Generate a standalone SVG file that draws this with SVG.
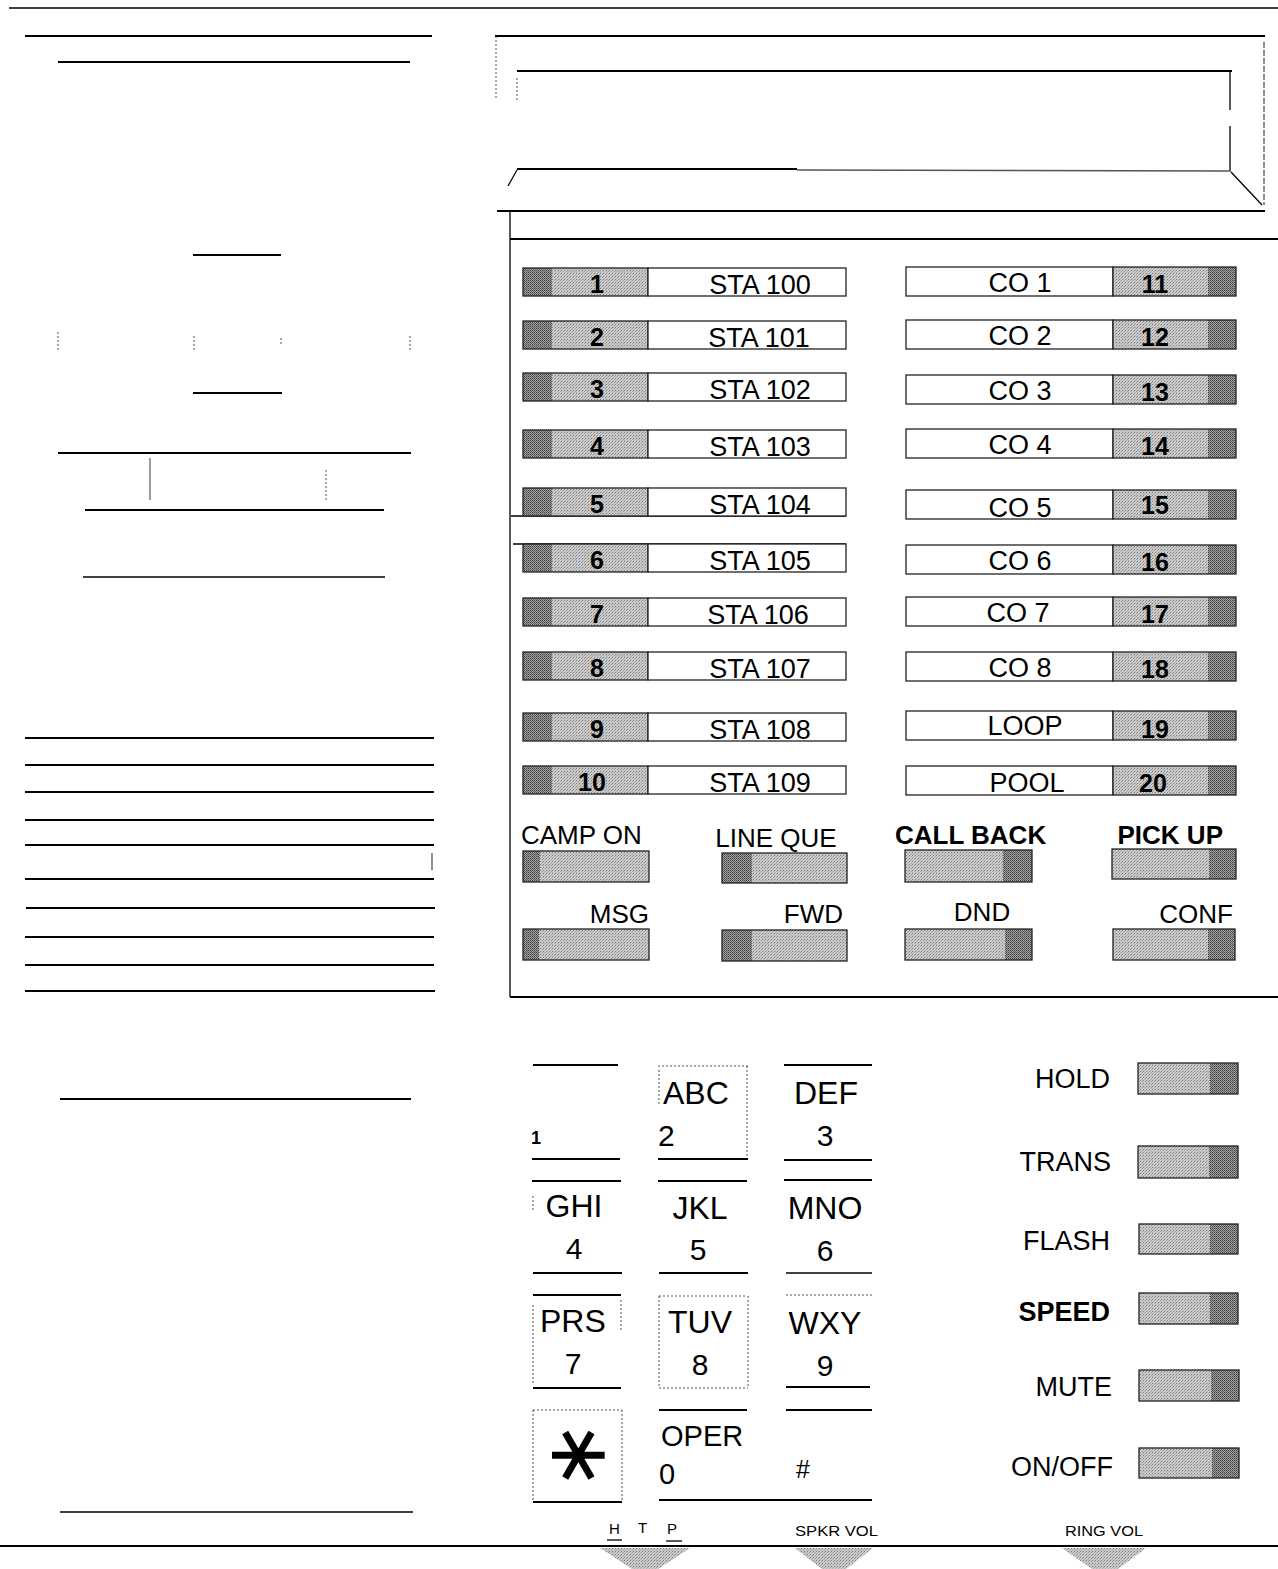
<svg xmlns="http://www.w3.org/2000/svg" width="1278" height="1569" viewBox="0 0 1278 1569">
<defs>
<pattern id="stip" width="3" height="3" patternUnits="userSpaceOnUse">
<rect width="3" height="3" fill="#cccccc"/><rect x="0" y="0" width="1" height="1" fill="#7a7a7a"/><rect x="2" y="1" width="1" height="1" fill="#999999"/><rect x="1" y="2" width="1" height="1" fill="#b0b0b0"/>
</pattern>
<pattern id="stipd" width="2" height="2" patternUnits="userSpaceOnUse">
<rect width="2" height="2" fill="#a0a0a0"/><rect x="0" y="0" width="1" height="1" fill="#404040"/><rect x="1" y="1" width="1" height="1" fill="#606060"/>
</pattern>
</defs>
<style>
.ln{stroke:#000;stroke-width:2;fill:none}
.tn{stroke:#000;stroke-width:1.3;fill:none}
.dt{stroke:#555;stroke-width:1;fill:none;stroke-dasharray:2 2}
.lt{fill:url(#stip)}
.dk{fill:url(#stipd)}
.ol{fill:none;stroke:#222;stroke-width:1.3}
.lb{fill:#fff;stroke:#222;stroke-width:1.3}
text{font-family:"Liberation Sans",Arial,sans-serif;fill:#000}
.lab{font-size:27px;text-anchor:middle}
.num{font-size:25px;font-weight:bold;text-anchor:middle}
.fl{font-size:26px}
.rl{font-size:27px;text-anchor:end}
.kp{font-size:32px;text-anchor:middle}
.kps{font-size:32px;text-anchor:start}
.kd{font-size:30px;text-anchor:middle}
.kds{font-size:30px;text-anchor:start}
.sm{font-size:15px}
</style>

<g id="frame">
<line class="tn" x1="9" y1="8" x2="1278" y2="8"/>
<line class="ln" x1="0" y1="1546" x2="1278" y2="1546"/>
</g>

<g id="left-lines">
<line class="ln" x1="25" y1="36" x2="432" y2="36"/>
<line class="ln" x1="58" y1="62" x2="410" y2="62"/>
<line class="ln" x1="193" y1="255" x2="281" y2="255"/>
<line class="dt" x1="58" y1="332" x2="58" y2="350"/>
<line class="dt" x1="194" y1="336" x2="194" y2="350"/>
<line class="dt" x1="281" y1="338" x2="281" y2="346"/>
<line class="dt" x1="410" y1="336" x2="410" y2="350"/>
<line class="ln" x1="193" y1="393" x2="282" y2="393"/>
<line class="ln" x1="58" y1="453" x2="411" y2="453"/>
<line x1="150" y1="458" x2="150" y2="500" stroke="#666" stroke-width="1.3"/>
<line class="dt" x1="326" y1="470" x2="326" y2="500"/>
<line class="ln" x1="85" y1="510" x2="384" y2="510"/>
<line class="tn" x1="83" y1="577" x2="385" y2="577"/>
<line class="ln" x1="25" y1="738" x2="434" y2="738"/>
<line class="ln" x1="25" y1="765" x2="434" y2="765"/>
<line class="ln" x1="25" y1="792" x2="434" y2="792"/>
<line class="ln" x1="25" y1="820" x2="434" y2="820"/>
<line class="ln" x1="25" y1="845" x2="434" y2="845"/>
<line x1="432" y1="853" x2="432" y2="870" stroke="#444" stroke-width="1.2"/>
<line class="ln" x1="25" y1="879" x2="434" y2="879"/>
<line class="ln" x1="26" y1="908" x2="435" y2="908"/>
<line class="ln" x1="25" y1="937" x2="434" y2="937"/>
<line class="ln" x1="25" y1="965" x2="434" y2="965"/>
<line class="ln" x1="25" y1="991" x2="435" y2="991"/>
<line class="ln" x1="60" y1="1099" x2="411" y2="1099"/>
<line class="tn" x1="60" y1="1512" x2="413" y2="1512"/>
</g>

<g id="display">
<line class="ln" x1="495" y1="36" x2="1265" y2="36"/>
<line class="dt" x1="496" y1="36" x2="496" y2="100"/>
<line class="ln" x1="517" y1="71" x2="1232" y2="71"/>
<line class="dt" x1="517" y1="78" x2="517" y2="100"/>
<line class="tn" x1="1230" y1="71" x2="1230" y2="110"/>
<line class="tn" x1="1230" y1="126" x2="1230" y2="171"/>
<line class="ln" x1="517" y1="169" x2="797" y2="169"/>
<line x1="797" y1="170" x2="1231" y2="171" stroke="#555" stroke-width="1.5"/>
<line class="tn" x1="517" y1="170" x2="508" y2="186"/>
<line class="tn" x1="1231" y1="172" x2="1262" y2="205"/>
<line x1="1264" y1="42" x2="1264" y2="205" stroke="#444" stroke-width="1.2" stroke-dasharray="6 2"/>
<line class="ln" x1="497" y1="211" x2="1265" y2="211"/>
<line class="ln" x1="510" y1="239" x2="1278" y2="239"/>
<line class="tn" x1="510" y1="211" x2="510" y2="997"/>
<line class="ln" x1="510" y1="997" x2="1278" y2="997"/>
<line class="tn" x1="511" y1="516" x2="846" y2="516"/>
<line class="tn" x1="513" y1="544" x2="846" y2="544"/>
</g>

<g id="sta1"><rect class="dk" x="523" y="268" width="29" height="28"/><rect class="lt" x="552" y="268" width="96" height="28"/><rect class="ol" x="523" y="268" width="125" height="28"/><rect class="lb" x="648" y="268" width="198" height="28"/><text class="num" x="597" y="293">1</text><text class="lab" x="760" y="294">STA 100</text></g>
<g id="sta2"><rect class="dk" x="523" y="321" width="29" height="28"/><rect class="lt" x="552" y="321" width="96" height="28"/><rect class="ol" x="523" y="321" width="125" height="28"/><rect class="lb" x="648" y="321" width="198" height="28"/><text class="num" x="597" y="346">2</text><text class="lab" x="759" y="347">STA 101</text></g>
<g id="sta3"><rect class="dk" x="523" y="373" width="29" height="28"/><rect class="lt" x="552" y="373" width="96" height="28"/><rect class="ol" x="523" y="373" width="125" height="28"/><rect class="lb" x="648" y="373" width="198" height="28"/><text class="num" x="597" y="398">3</text><text class="lab" x="760" y="399">STA 102</text></g>
<g id="sta4"><rect class="dk" x="523" y="430" width="29" height="28"/><rect class="lt" x="552" y="430" width="96" height="28"/><rect class="ol" x="523" y="430" width="125" height="28"/><rect class="lb" x="648" y="430" width="198" height="28"/><text class="num" x="597" y="455">4</text><text class="lab" x="760" y="456">STA 103</text></g>
<g id="sta5"><rect class="dk" x="523" y="488" width="29" height="28"/><rect class="lt" x="552" y="488" width="96" height="28"/><rect class="ol" x="523" y="488" width="125" height="28"/><rect class="lb" x="648" y="488" width="198" height="28"/><text class="num" x="597" y="513">5</text><text class="lab" x="760" y="514">STA 104</text></g>
<g id="sta6"><rect class="dk" x="523" y="544" width="29" height="28"/><rect class="lt" x="552" y="544" width="96" height="28"/><rect class="ol" x="523" y="544" width="125" height="28"/><rect class="lb" x="648" y="544" width="198" height="28"/><text class="num" x="597" y="569">6</text><text class="lab" x="760" y="570">STA 105</text></g>
<g id="sta7"><rect class="dk" x="523" y="598" width="29" height="28"/><rect class="lt" x="552" y="598" width="96" height="28"/><rect class="ol" x="523" y="598" width="125" height="28"/><rect class="lb" x="648" y="598" width="198" height="28"/><text class="num" x="597" y="623">7</text><text class="lab" x="758" y="624">STA 106</text></g>
<g id="sta8"><rect class="dk" x="523" y="652" width="29" height="28"/><rect class="lt" x="552" y="652" width="96" height="28"/><rect class="ol" x="523" y="652" width="125" height="28"/><rect class="lb" x="648" y="652" width="198" height="28"/><text class="num" x="597" y="677">8</text><text class="lab" x="760" y="678">STA 107</text></g>
<g id="sta9"><rect class="dk" x="523" y="713" width="29" height="28"/><rect class="lt" x="552" y="713" width="96" height="28"/><rect class="ol" x="523" y="713" width="125" height="28"/><rect class="lb" x="648" y="713" width="198" height="28"/><text class="num" x="597" y="738">9</text><text class="lab" x="760" y="739">STA 108</text></g>
<g id="sta10"><rect class="dk" x="523" y="766" width="29" height="28"/><rect class="lt" x="552" y="766" width="96" height="28"/><rect class="ol" x="523" y="766" width="125" height="28"/><rect class="lb" x="648" y="766" width="198" height="28"/><text class="num" x="592" y="791">10</text><text class="lab" x="760" y="792">STA 109</text></g>

<g id="co11"><rect class="lb" x="906" y="267" width="207" height="29"/><rect class="lt" x="1113" y="267" width="95" height="29"/><rect class="dk" x="1208" y="267" width="28" height="29"/><rect class="ol" x="1113" y="267" width="123" height="29"/><text class="lab" x="1020" y="292">CO 1</text><text class="num" x="1155" y="293">11</text></g>
<g id="co12"><rect class="lb" x="906" y="320" width="207" height="29"/><rect class="lt" x="1113" y="320" width="95" height="29"/><rect class="dk" x="1208" y="320" width="28" height="29"/><rect class="ol" x="1113" y="320" width="123" height="29"/><text class="lab" x="1020" y="345">CO 2</text><text class="num" x="1155" y="346">12</text></g>
<g id="co13"><rect class="lb" x="906" y="375" width="207" height="29"/><rect class="lt" x="1113" y="375" width="95" height="29"/><rect class="dk" x="1208" y="375" width="28" height="29"/><rect class="ol" x="1113" y="375" width="123" height="29"/><text class="lab" x="1020" y="400">CO 3</text><text class="num" x="1155" y="401">13</text></g>
<g id="co14"><rect class="lb" x="906" y="429" width="207" height="29"/><rect class="lt" x="1113" y="429" width="95" height="29"/><rect class="dk" x="1208" y="429" width="28" height="29"/><rect class="ol" x="1113" y="429" width="123" height="29"/><text class="lab" x="1020" y="454">CO 4</text><text class="num" x="1155" y="455">14</text></g>
<g id="co15"><rect class="lb" x="906" y="490" width="207" height="29"/><rect class="lt" x="1113" y="490" width="95" height="29"/><rect class="dk" x="1208" y="490" width="28" height="29"/><rect class="ol" x="1113" y="490" width="123" height="29"/><text class="lab" x="1020" y="517">CO 5</text><text class="num" x="1155" y="514">15</text></g>
<g id="co16"><rect class="lb" x="906" y="545" width="207" height="29"/><rect class="lt" x="1113" y="545" width="95" height="29"/><rect class="dk" x="1208" y="545" width="28" height="29"/><rect class="ol" x="1113" y="545" width="123" height="29"/><text class="lab" x="1020" y="570">CO 6</text><text class="num" x="1155" y="571">16</text></g>
<g id="co17"><rect class="lb" x="906" y="597" width="207" height="29"/><rect class="lt" x="1113" y="597" width="95" height="29"/><rect class="dk" x="1208" y="597" width="28" height="29"/><rect class="ol" x="1113" y="597" width="123" height="29"/><text class="lab" x="1018" y="622">CO 7</text><text class="num" x="1155" y="623">17</text></g>
<g id="co18"><rect class="lb" x="906" y="652" width="207" height="29"/><rect class="lt" x="1113" y="652" width="95" height="29"/><rect class="dk" x="1208" y="652" width="28" height="29"/><rect class="ol" x="1113" y="652" width="123" height="29"/><text class="lab" x="1020" y="677">CO 8</text><text class="num" x="1155" y="678">18</text></g>
<g id="co19"><rect class="lb" x="906" y="711" width="207" height="29"/><rect class="lt" x="1113" y="711" width="95" height="29"/><rect class="dk" x="1208" y="711" width="28" height="29"/><rect class="ol" x="1113" y="711" width="123" height="29"/><text class="lab" x="1025" y="735">LOOP</text><text class="num" x="1155" y="738">19</text></g>
<g id="co20"><rect class="lb" x="906" y="766" width="207" height="29"/><rect class="lt" x="1113" y="766" width="95" height="29"/><rect class="dk" x="1208" y="766" width="28" height="29"/><rect class="ol" x="1113" y="766" width="123" height="29"/><text class="lab" x="1027" y="792">POOL</text><text class="num" x="1153" y="792">20</text></g>

<g id="campon"><text class="fl" x="521" y="844">CAMP ON</text><rect class="lt" x="523" y="851" width="126" height="31"/><rect class="dk" x="523" y="851" width="17" height="31"/><rect class="ol" x="523" y="851" width="126" height="31"/></g>
<g id="lineque"><text class="fl" x="776" y="847" text-anchor="middle">LINE QUE</text><rect class="lt" x="722" y="853" width="125" height="30"/><rect class="dk" x="722" y="853" width="30" height="30"/><rect class="ol" x="722" y="853" width="125" height="30"/></g>
<g id="callback"><text class="fl" x="895" y="844" font-weight="bold">CALL BACK</text><rect class="lt" x="905" y="850" width="127" height="32"/><rect class="dk" x="1003" y="850" width="29" height="32"/><rect class="ol" x="905" y="850" width="127" height="32"/></g>
<g id="pickup"><text class="fl" x="1223" y="844" text-anchor="end" font-weight="bold">PICK UP</text><rect class="lt" x="1112" y="849" width="124" height="30"/><rect class="dk" x="1209" y="849" width="27" height="30"/><rect class="ol" x="1112" y="849" width="124" height="30"/></g>
<g id="msg"><text class="fl" x="649" y="923" text-anchor="end">MSG</text><rect class="lt" x="523" y="929" width="126" height="31"/><rect class="dk" x="523" y="929" width="16" height="31"/><rect class="ol" x="523" y="929" width="126" height="31"/></g>
<g id="fwd"><text class="fl" x="843" y="923" text-anchor="end">FWD</text><rect class="lt" x="722" y="930" width="125" height="31"/><rect class="dk" x="722" y="930" width="30" height="31"/><rect class="ol" x="722" y="930" width="125" height="31"/></g>
<g id="dnd"><text class="fl" x="982" y="921" text-anchor="middle">DND</text><rect class="lt" x="905" y="929" width="127" height="31"/><rect class="dk" x="1005" y="929" width="27" height="31"/><rect class="ol" x="905" y="929" width="127" height="31"/></g>
<g id="conf"><text class="fl" x="1233" y="923" text-anchor="end">CONF</text><rect class="lt" x="1113" y="929" width="122" height="31"/><rect class="dk" x="1208" y="929" width="27" height="31"/><rect class="ol" x="1113" y="929" width="122" height="31"/></g>

<g id="key1"><line class="ln" x1="533" y1="1065" x2="618" y2="1065"/><line class="ln" x1="532" y1="1159" x2="620" y2="1159"/><text x="531" y="1144" font-size="18" font-weight="bold">1</text></g>
<g id="key2"><line class="dt" x1="658" y1="1066" x2="748" y2="1066"/><line class="dt" x1="659" y1="1070" x2="659" y2="1105"/><line class="dt" x1="747" y1="1066" x2="747" y2="1159"/><line class="ln" x1="658" y1="1159" x2="748" y2="1159"/><text class="kps" x="663" y="1104">ABC</text><text class="kds" x="658" y="1146">2</text></g>
<g id="key3"><line class="ln" x1="784" y1="1065" x2="872" y2="1065"/><line class="ln" x1="784" y1="1160" x2="872" y2="1160"/><text class="kp" x="826" y="1104">DEF</text><text class="kd" x="825" y="1146">3</text></g>
<g id="key4"><line class="ln" x1="532" y1="1181" x2="621" y2="1181"/><line class="ln" x1="533" y1="1273" x2="622" y2="1273"/><line class="dt" x1="533" y1="1196" x2="533" y2="1210"/><text class="kp" x="574" y="1217">GHI</text><text class="kd" x="574" y="1259">4</text></g>
<g id="key5"><line class="ln" x1="658" y1="1181" x2="747" y2="1181"/><line class="ln" x1="659" y1="1273" x2="748" y2="1273"/><text class="kp" x="700" y="1219">JKL</text><text class="kd" x="698" y="1260">5</text></g>
<g id="key6"><line class="ln" x1="784" y1="1180" x2="872" y2="1180"/><line class="tn" x1="786" y1="1273" x2="872" y2="1273"/><text class="kp" x="825" y="1219">MNO</text><text class="kd" x="825" y="1261">6</text></g>
<g id="key7"><line class="ln" x1="533" y1="1295" x2="621" y2="1295"/><line class="dt" x1="533" y1="1305" x2="533" y2="1383"/><line class="dt" x1="621" y1="1300" x2="621" y2="1330"/><line class="ln" x1="533" y1="1388" x2="621" y2="1388"/><text class="kps" x="540" y="1332">PRS</text><text class="kd" x="573" y="1374">7</text></g>
<g id="key8"><line class="dt" x1="659" y1="1296" x2="747" y2="1296"/><line class="dt" x1="659" y1="1296" x2="659" y2="1388"/><line class="dt" x1="748" y1="1296" x2="748" y2="1388"/><line class="dt" x1="659" y1="1388" x2="748" y2="1388"/><text class="kp" x="700" y="1333">TUV</text><text class="kd" x="700" y="1375">8</text></g>
<g id="key9"><line class="dt" x1="786" y1="1295" x2="872" y2="1295"/><line class="ln" x1="786" y1="1387" x2="870" y2="1387" stroke-width="2.5"/><text class="kp" x="825" y="1334">WXY</text><text class="kd" x="825" y="1376">9</text></g>
<g id="keystar"><line class="dt" x1="533" y1="1410" x2="622" y2="1410"/><line class="dt" x1="533" y1="1410" x2="533" y2="1500"/><line class="dt" x1="622" y1="1410" x2="622" y2="1500"/><line class="ln" x1="533" y1="1502" x2="622" y2="1502"/><text x="577" y="1455" font-family="DejaVu Sans, sans-serif" font-size="84" text-anchor="middle" transform="rotate(90 577 1455) translate(0 25)">∗</text></g>
<g id="key0"><line class="ln" x1="659" y1="1410" x2="747" y2="1410"/><text x="661" y="1446" font-size="29">OPER</text><text x="659" y="1484" font-size="29">0</text></g>
<g id="keyhash"><line class="ln" x1="786" y1="1410" x2="872" y2="1410"/><line class="ln" x1="659" y1="1500" x2="872" y2="1500"/><text x="796" y="1478" font-size="25">#</text></g>

<g id="hold"><text class="rl" x="1110" y="1088">HOLD</text><rect class="lt" x="1138" y="1063" width="100" height="31"/><rect class="dk" x="1210" y="1063" width="28" height="31"/><rect class="ol" x="1138" y="1063" width="100" height="31"/></g>
<g id="trans"><text class="rl" x="1111" y="1171">TRANS</text><rect class="lt" x="1138" y="1146" width="100" height="32"/><rect class="dk" x="1209" y="1146" width="29" height="32"/><rect class="ol" x="1138" y="1146" width="100" height="32"/></g>
<g id="flash"><text class="rl" x="1110" y="1250">FLASH</text><rect class="lt" x="1139" y="1224" width="99" height="30"/><rect class="dk" x="1210" y="1224" width="28" height="30"/><rect class="ol" x="1139" y="1224" width="99" height="30"/></g>
<g id="speed"><text class="rl" x="1110" y="1321" font-weight="bold" font-size="26">SPEED</text><rect class="lt" x="1139" y="1293" width="99" height="31"/><rect class="dk" x="1210" y="1293" width="28" height="31"/><rect class="ol" x="1139" y="1293" width="99" height="31"/></g>
<g id="mute"><text class="rl" x="1112" y="1396">MUTE</text><rect class="lt" x="1139" y="1370" width="100" height="31"/><rect class="dk" x="1211" y="1370" width="28" height="31"/><rect class="ol" x="1139" y="1370" width="100" height="31"/></g>
<g id="onoff"><text class="rl" x="1113" y="1476">ON/OFF</text><rect class="lt" x="1139" y="1448" width="100" height="30"/><rect class="dk" x="1212" y="1448" width="27" height="30"/><rect class="ol" x="1139" y="1448" width="100" height="30"/></g>

<g id="htp"><text class="sm" x="609" y="1534" font-size="14">H</text><line class="tn" x1="607" y1="1540" x2="622" y2="1540"/><text class="sm" x="638" y="1533" font-size="13" fill="#333">T</text><text class="sm" x="667" y="1534" font-size="14">P</text><line class="tn" x1="666" y1="1541" x2="682" y2="1541"/><polygon class="lt" points="600,1548 690,1548 658,1569 632,1569"/></g>
<g id="spkrvol"><text class="sm" x="795" y="1536" textLength="83" lengthAdjust="spacingAndGlyphs">SPKR VOL</text><polygon class="lt" points="795,1548 873,1548 846,1569 822,1569"/></g>
<g id="ringvol"><text class="sm" x="1065" y="1536" textLength="78" lengthAdjust="spacingAndGlyphs">RING VOL</text><polygon class="lt" points="1062,1548 1146,1548 1118,1569 1092,1569"/></g>
</svg>
